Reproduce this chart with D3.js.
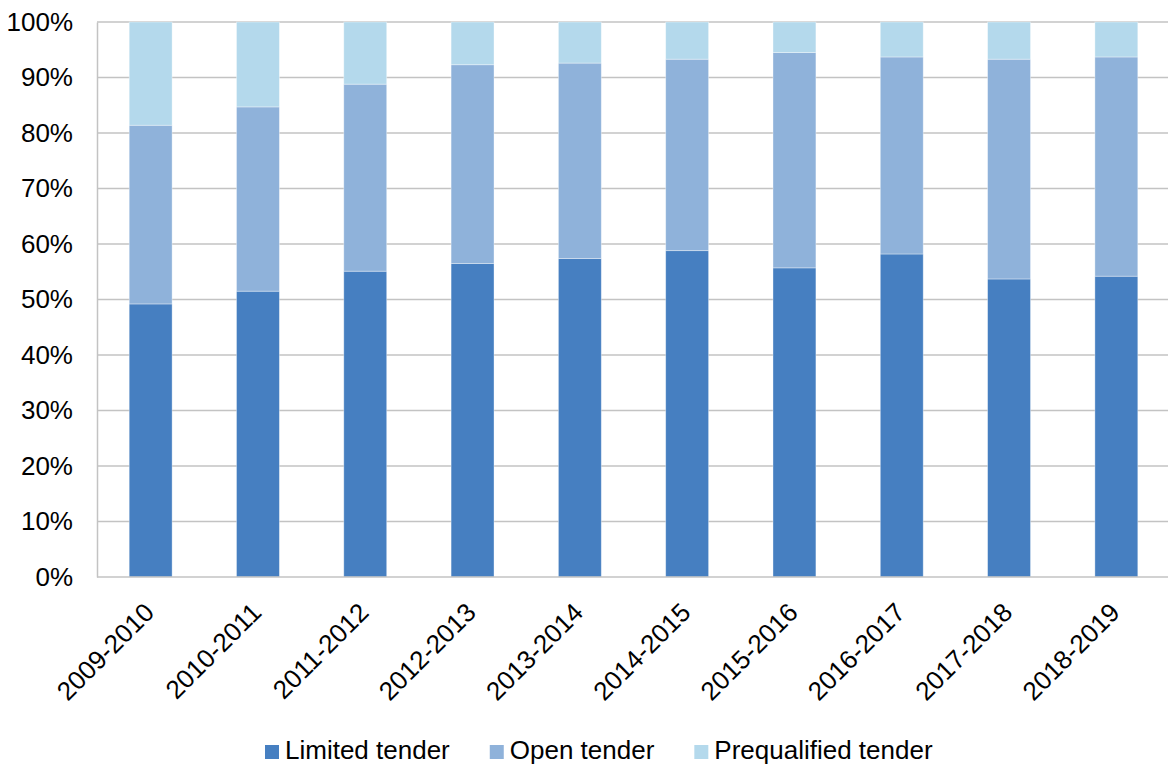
<!DOCTYPE html>
<html>
<head>
<meta charset="utf-8">
<script src="https://cdn.jsdelivr.net/npm/d3@7"></script>
<style>
  html, body { margin: 0; padding: 0; background: #fff; }
  svg { display: block; font-family: "Liberation Sans", Arial, sans-serif; }
</style>
</head>
<body>
<svg id="chart" width="1168" height="764"></svg>
<script>
// Share of tenders by procurement method, per financial year (%)
const years = ["2009-2010", "2010-2011", "2011-2012", "2012-2013", "2013-2014",
               "2014-2015", "2015-2016", "2016-2017", "2017-2018", "2018-2019"];
const limitedTender      = [49.2, 51.5, 55.1, 56.5, 57.4, 58.8, 55.7, 58.2, 53.7, 54.2];
const openTender         = [32.2, 33.2, 33.7, 35.8, 35.2, 34.5, 38.8, 35.5, 39.6, 39.5];
const prequalifiedTender = [18.6, 15.3, 11.2,  7.7,  7.4,  6.7,  5.5,  6.3,  6.7,  6.3];
const seriesNames = ["Limited tender", "Open tender", "Prequalified tender"];
const seriesColors = ["#467fc1", "#8fb2da", "#b4d9ec"];
const yTicks = [0, 10, 20, 30, 40, 50, 60, 70, 80, 90, 100];

const rows = years.map((y, i) => ({
  year: y,
  "Limited tender": limitedTender[i],
  "Open tender": openTender[i],
  "Prequalified tender": prequalifiedTender[i]
}));

const svg = d3.select("#chart");
const margin = { left: 97, right: -2, top: 22, bottom: 187 };
const W = 1168, H = 764;
const fontSize = 26;

const x = d3.scaleBand()
  .domain(years)
  .range([margin.left, W - margin.right])
  .paddingInner(0.6)
  .paddingOuter(0.3);

const y = d3.scaleLinear()
  .domain([0, 100])
  .range([H - margin.bottom, margin.top]);

const color = d3.scaleOrdinal().domain(seriesNames).range(seriesColors);

// horizontal gridlines
svg.append("g")
  .selectAll("line")
  .data(yTicks.filter(t => t > 0))
  .join("line")
  .attr("x1", margin.left)
  .attr("x2", W)
  .attr("y1", d => y(d))
  .attr("y2", d => y(d))
  .attr("stroke", "#c3c3c3")
  .attr("stroke-width", 1.5);

// stacked bars
const stacked = d3.stack().keys(seriesNames)(rows);
svg.append("g")
  .selectAll("g")
  .data(stacked)
  .join("g")
  .attr("fill", d => color(d.key))
  .selectAll("rect")
  .data(d => d)
  .join("rect")
  .attr("x", d => x(d.data.year))
  .attr("width", x.bandwidth())
  .attr("y", d => y(d[1]))
  .attr("height", d => y(d[0]) - y(d[1]))
  .attr("stroke", "#ffffff")
  .attr("stroke-opacity", 0.45)
  .attr("stroke-width", 0.8);

// y axis
const yAxis = svg.append("g")
  .attr("transform", `translate(${margin.left},0)`)
  .call(d3.axisLeft(y).tickValues(yTicks).tickSize(0).tickPadding(24).tickFormat(d => d + "%"));
yAxis.select(".domain").attr("stroke", "#c3c3c3").attr("stroke-width", 1.5);
yAxis.selectAll("text")
  .attr("font-size", fontSize)
  .attr("fill", "#000")
  .attr("font-family", "Liberation Sans, Arial, sans-serif");

// x axis
const xAxis = svg.append("g")
  .attr("transform", `translate(0,${H - margin.bottom})`)
  .call(d3.axisBottom(x).tickSize(0).tickFormat(d => d));
xAxis.select(".domain").attr("stroke", "#c3c3c3").attr("stroke-width", 1.5)
  .attr("d", `M${margin.left},0H${W}`);
xAxis.selectAll("text")
  .attr("font-size", fontSize)
  .attr("fill", "#000")
  .attr("font-family", "Liberation Sans, Arial, sans-serif")
  .attr("text-anchor", "end")
  .attr("dy", null)
  .attr("y", 0)
  .attr("transform", "translate(5,37) rotate(-45)");

// legend
const legend = svg.append("g").attr("transform", "translate(265,0)");
let lx = 0;
seriesNames.forEach(name => {
  const g = legend.append("g").attr("transform", `translate(${lx},0)`);
  g.append("rect")
    .attr("x", 0).attr("y", 745)
    .attr("width", 14).attr("height", 14)
    .attr("fill", color(name));
  const t = g.append("text")
    .attr("x", 20).attr("y", 759)
    .attr("font-size", fontSize)
    .attr("fill", "#000")
    .text(name);
  lx += 20 + t.node().getComputedTextLength() + 40;
});
</script>
</body>
</html>
